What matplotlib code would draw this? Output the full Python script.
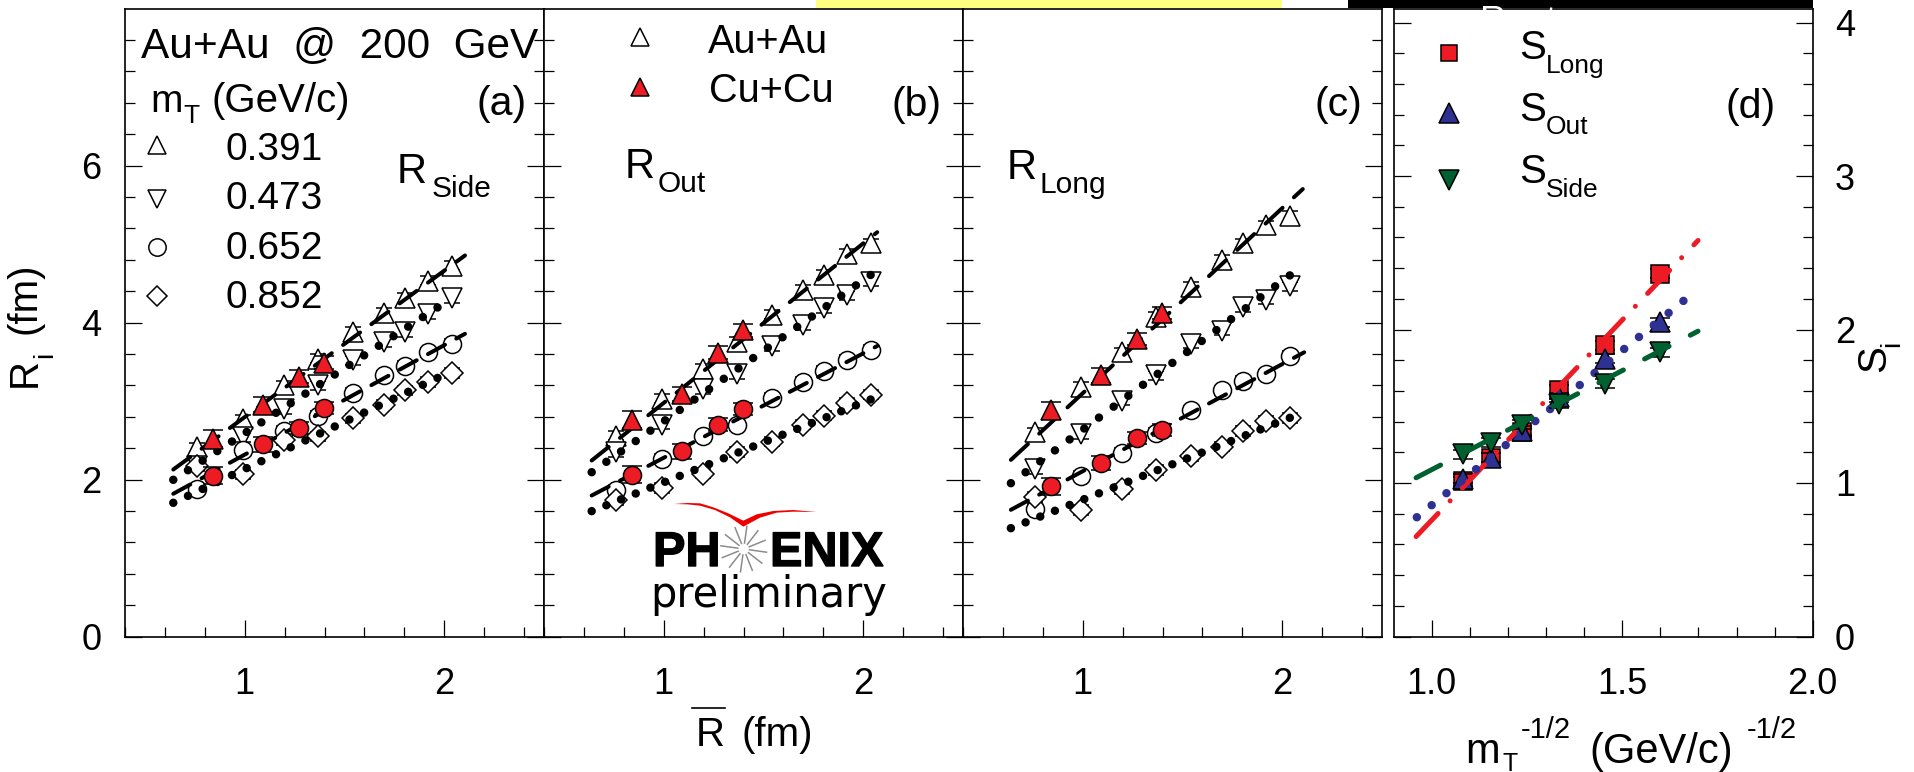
import numpy as np
import matplotlib
matplotlib.use('Agg')
import matplotlib.pyplot as plt
import matplotlib.patheffects as pe
from matplotlib.patches import Rectangle, Polygon

plt.rcParams['font.family'] = ['Liberation Sans', 'DejaVu Sans']
plt.rcParams['lines.scale_dashes'] = False

# centrality positions, Rbar (fm)
rbar_au = [0.76, 0.993, 1.196, 1.365, 1.545, 1.696, 1.804, 1.92, 2.038]
rbar_cu = [0.843, 1.093, 1.274, 1.397]
err_cu = [0.11, 0.09, 0.08, 0.08]
err_au = 0.06

# (a) RSide
side_391 = [2.41, 2.765, 3.2, 3.54, 3.877, 4.12, 4.31, 4.535, 4.726]
side_473 = [2.178, 2.54, 2.9, 3.2, 3.516, 3.75, 3.877, 4.11, 4.314]
side_652 = [1.88, 2.37, 2.616, 2.815, 3.1, 3.325, 3.45, 3.62, 3.73]
side_852 = [2.166, 2.064, 2.497, 2.55, 2.78, 2.955, 3.134, 3.24, 3.355]
side_cu_391 = [2.518, 2.955, 3.31, 3.49]
side_cu_652 = [2.05, 2.446, 2.658, 2.913]
side_fit_391 = ([0.642, 2.104], [2.127, 4.854])
side_fit_473 = ([0.642, 2.038], [1.996, 4.31])
side_fit_652 = ([0.642, 2.104], [1.818, 3.856])
side_fit_852 = ([0.642, 2.038], [1.703, 3.38])

# (b) ROut
out_391 = [2.56, 3.03, 3.41, 3.75, 4.1, 4.416, 4.61, 4.875, 5.01]
out_473 = [2.348, 2.7, 3.155, 3.346, 3.7, 3.97, 4.187, 4.344, 4.522]
out_652 = [1.868, 2.264, 2.548, 2.688, 3.04, 3.248, 3.38, 3.525, 3.656]
out_852 = [1.74, 1.894, 2.073, 2.348, 2.484, 2.7, 2.815, 2.977, 3.08]
out_cu_391 = [2.764, 3.09, 3.616, 3.9]
out_cu_652 = [2.06, 2.357, 2.7, 2.9]
out_fit_391 = ([0.639, 2.07], [2.242, 5.15])
out_fit_473 = ([0.639, 2.038], [2.093, 4.607])
out_fit_652 = ([0.639, 2.07], [1.796, 3.7])
out_fit_852 = ([0.639, 2.038], [1.597, 3.02])

# (c) RLong
long_391 = [2.6, 3.176, 3.62, 4.07, 4.45, 4.8, 5.01, 5.236, 5.355]
long_473 = [2.136, 2.58, 3.006, 3.325, 3.73, 3.898, 4.195, 4.29, 4.459]
long_652 = [1.626, 2.05, 2.34, 2.595, 2.879, 3.134, 3.26, 3.338, 3.571]
long_852 = [1.775, 1.614, 1.881, 2.123, 2.293, 2.42, 2.616, 2.743, 2.786]
long_cu_391 = [2.879, 3.325, 3.79, 4.12]
long_cu_652 = [1.915, 2.208, 2.53, 2.633]
long_fit_391 = ([0.64, 2.103], [2.25, 5.7])
long_fit_473 = ([0.64, 2.038], [1.953, 4.6])
long_fit_652 = ([0.64, 2.11], [1.614, 3.62])
long_fit_852 = ([0.64, 2.038], [1.38, 2.786])

# (d) slopes
mt_inv = [1.083, 1.156, 1.238, 1.334, 1.455, 1.599]
s_long = [1.012, 1.164, 1.331, 1.607, 1.896, 2.363]
s_out = [1.027, 1.164, 1.342, 1.559, 1.809, 2.048]
s_side = [1.186, 1.262, 1.381, 1.516, 1.646, 1.852]
err_s = 0.03
s_long_fit = ([0.959, 1.699], [0.651, 2.58])
s_out_fit = ([0.961, 1.662], [0.777, 2.189])
s_side_fit = ([0.959, 1.699], [1.034, 1.989])

RED = '#ed1c24'
BLUE = '#2e3192'
GREEN = '#00602f'
W, H = 1915, 772

fig = plt.figure(figsize=(W / 100, H / 100), dpi=100, facecolor='white')


def make_axes(x0, x1, top=8.5, bottom=636.5):
    ax = fig.add_axes([x0 / W, 1 - bottom / H, (x1 - x0) / W, (bottom - top) / H])
    for s in ax.spines.values():
        s.set_linewidth(1.2)
    ax.tick_params(which='major', direction='in', length=12, width=0.9, left=True, right=True,
                   top=False, labelsize=26)
    ax.tick_params(which='minor', direction='in', length=7.3, width=0.9, left=True, right=True,
                   top=False)
    ax.tick_params(axis='x', which='major', pad=22)
    ax.tick_params(axis='y', which='major', pad=17)
    return ax


def fit_line(ax, xy, color, lw_px, pattern_px, z=3):
    # dash pattern is given along x in pixels, stretched to follow the slope
    a = ax.transData.transform((xy[0][0], xy[1][0]))
    b = ax.transData.transform((xy[0][1], xy[1][1]))
    k = np.hypot(*(b - a)) / (b[0] - a[0])
    ax.plot(xy[0], xy[1], color=color, lw=lw_px * 0.72, dash_capstyle='round',
            dashes=[v * k * 0.72 for v in pattern_px], zorder=z)


def points(ax, x, y, err, marker, ms, face, z, cap=6):
    ax.errorbar(x, y, yerr=err, fmt=marker, ms=ms, mfc=face, mec='k', mew=1.1, ecolor='k',
                elinewidth=0.9, capsize=cap, capthick=0.9, zorder=z)


DASH = [17, 11.3]
DOTS = [0.01, 14.67]


def radius_panel(x0, x1, s391, s473, s652, s852, cu391, cu652, f391, f473, f652, f852):
    ax = make_axes(x0, x1)
    ax.set_xlim(0.4, 2.5)
    ax.set_ylim(0, 8)
    ax.set_xticks([1, 2])
    ax.set_xticks(np.arange(0.4, 2.5, 0.2), minor=True)
    ax.set_yticks([0, 2, 4, 6])
    ax.set_yticks(np.arange(0, 8, 0.4), minor=True)
    points(ax, rbar_au, s391, err_au, '^', 14, 'white', 2)
    points(ax, rbar_au, s473, err_au, 'v', 14, 'white', 2)
    points(ax, rbar_au, s652, err_au, 'o', 13, 'white', 2)
    points(ax, rbar_au, s852, err_au, 'D', 11, 'white', 2)
    fit_line(ax, f391, 'k', 4, DASH)
    fit_line(ax, f652, 'k', 4, DASH)
    fit_line(ax, f473, 'k', 8.5, DOTS)
    fit_line(ax, f852, 'k', 8.5, DOTS)
    points(ax, rbar_cu, cu391, err_cu, '^', 14, RED, 5, cap=7.5)
    points(ax, rbar_cu, cu652, err_cu, 'o', 13, RED, 5, cap=7.5)
    return ax


ax_a = radius_panel(125, 544, side_391, side_473, side_652, side_852, side_cu_391, side_cu_652,
                    side_fit_391, side_fit_473, side_fit_652, side_fit_852)
ax_b = radius_panel(544, 963, out_391, out_473, out_652, out_852, out_cu_391, out_cu_652,
                    out_fit_391, out_fit_473, out_fit_652, out_fit_852)
ax_c = radius_panel(963, 1382, long_391, long_473, long_652, long_852, long_cu_391, long_cu_652,
                    long_fit_391, long_fit_473, long_fit_652, long_fit_852)
ax_b.set_yticklabels([])
ax_c.set_yticklabels([])

# (d)
ax_d = make_axes(1393.6, 1812.7)
ax_d.set_xlim(0.9, 2.0)
ax_d.set_ylim(0, 628 / 153.5)
ax_d.set_xticks([1.0, 1.5, 2.0])
ax_d.set_xticklabels(['1.0', '1.5', '2.0'])
ax_d.set_xticks(np.arange(1.0, 2.0, 0.1), minor=True)
ax_d.set_yticks([0, 1, 2, 3, 4])
ax_d.set_yticks(np.arange(0, 4.1, 0.2), minor=True)
ax_d.yaxis.tick_right()
ax_d.tick_params(which='both', left=True, right=True)
ax_d.tick_params(axis='y', which='major', pad=16)
points(ax_d, mt_inv, s_long, err_s, 's', 12.5, RED, 2, cap=7)
points(ax_d, mt_inv, s_out, err_s, '^', 15, BLUE, 2.5, cap=7)
fit_line(ax_d, s_long_fit, RED, 5, [22, 12, 0.01, 12.3])
fit_line(ax_d, s_out_fit, BLUE, 8.5, [0.01, 14.8])
points(ax_d, mt_inv, s_side, err_s, 'v', 15, GREEN, 4, cap=7)
fit_line(ax_d, s_side_fit, GREEN, 5, [24.5, 21.2], z=5)

# overlay in image pixels for the annotations
ov = fig.add_axes([0, 0, 1, 1], facecolor='none', zorder=10)
ov.set_xlim(0, W)
ov.set_ylim(H, 0)
ov.axis('off')


def label(x, y, s, fs=28, **kw):
    return ov.text(x, y, s, fontsize=fs, ha='left', va='baseline', **kw)


# cropped banners along the top edge
yellow = ov.add_patch(Rectangle((816.5, 0), 465.5, 7.5, fc='#ffff7f', ec='none'))
black = ov.add_patch(Rectangle((1348, 0), 465, 8, fc='black', ec='none'))
label(1137, -5, 'g', fs=14, color='k').set_clip_path(yellow)
label(1480, 32, 'Rout', fs=26, color='white').set_clip_path(black)

# panel (a) header and legend
label(141, 58, 'Au+Au  @  200  GeV', fs=30.5)
label(150, 112, 'm', fs=28)
label(183, 123, 'T', fs=19)
label(212, 112, '(GeV/c)', fs=29)
for yb, ym, val, mk, ms in [(160, 145, '0.391', '^', 13), (209, 199, '0.473', 'v', 13),
                            (259, 247, '0.652', 'o', 12.5), (308, 296, '0.852', 'D', 10)]:
    label(226, yb, val, fs=28)
    ov.plot([157], [ym], mk, ms=ms, mfc='white', mec='k', mew=1.1)
label(477, 115, '(a)', fs=29.5)
label(397, 183, 'R', fs=30)
label(432, 197, 'Side', fs=21.5)

# panel (b)
label(708, 53, 'Au+Au', fs=28.5)
label(709, 102, 'Cu+Cu', fs=28.5)
ov.plot([640], [37], '^', ms=13, mfc='white', mec='k', mew=1.1)
ov.plot([640], [87], '^', ms=13.5, mfc=RED, mec='k', mew=1.1)
label(892, 116, '(b)', fs=29.5)
label(625, 178, 'R', fs=30)
label(658, 192, 'Out', fs=21.5)

# panel (c)
label(1315, 116, '(c)', fs=29.5)
label(1007, 179, 'R', fs=30)
label(1040, 193, 'Long', fs=21.5)

# panel (d)
label(1726, 118, '(d)', fs=29.5)
for ym, yb, ysub, mk, ms, col, sub in [(53, 59, 73, 's', 11.5, RED, 'Long'),
                                       (113, 121, 134, '^', 14, BLUE, 'Out'),
                                       (180, 183, 197, 'v', 14, GREEN, 'Side')]:
    ov.plot([1449.5], [ym], mk, ms=ms, mfc=col, mec='k', mew=1.1)
    label(1519.5, yb, 'S', fs=29)
    label(1545.5, ysub, sub, fs=19)

# axis titles
label(36, 387, 'R', fs=29, rotation=90, rotation_mode='anchor')
label(52, 358, 'i', fs=20, rotation=90, rotation_mode='anchor')
label(36, 334, '(fm)', fs=29, rotation=90, rotation_mode='anchor')
label(1885, 372, 'S', fs=29, rotation=90, rotation_mode='anchor')
label(1899, 347, 'i', fs=20, rotation=90, rotation_mode='anchor')
label(696, 746, 'R', fs=29)
ov.plot([692, 725], [708, 708], color='k', lw=1.2)
label(742, 746, '(fm)', fs=29)
label(1465, 763, 'm', fs=30)
label(1503, 771, 'T', fs=18)
label(1520.5, 738, '-1/2', fs=21)
label(1589, 763, '(GeV/c)', fs=30)
label(1747, 738, '-1/2', fs=21)

# PHENIX logo
for x, s in [(653, 'PH'), (770, 'ENIX')]:
    label(x, 566, s, fs=35, fontweight='bold',
          path_effects=[pe.withStroke(linewidth=1, foreground='k')])
label(650, 606.7, 'preliminary', fs=30, family='DejaVu Sans')
for ang in np.deg2rad(np.arange(8, 368, 30)):
    ov.plot([743.7 + 6 * np.cos(ang), 743.7 + 23 * np.cos(ang)],
            [549 + 6 * np.sin(ang), 549 + 23 * np.sin(ang)], color='#8c8c8c', lw=1.1)
swoosh_z = [(222, 72), (262, 69), (300, 70), (340, 82), (385, 100), (430, 122), (470, 103),
            (520, 93), (580, 90), (650, 96), (580, 95), (530, 98), (480, 113), (430, 140),
            (390, 112), (345, 90), (300, 77), (262, 73)]
ov.add_patch(Polygon([(600 + a / 3, 480 + b / 3) for a, b in swoosh_z], fc='#ee0000', ec='none'))

fig.savefig('out.png', dpi=100)
